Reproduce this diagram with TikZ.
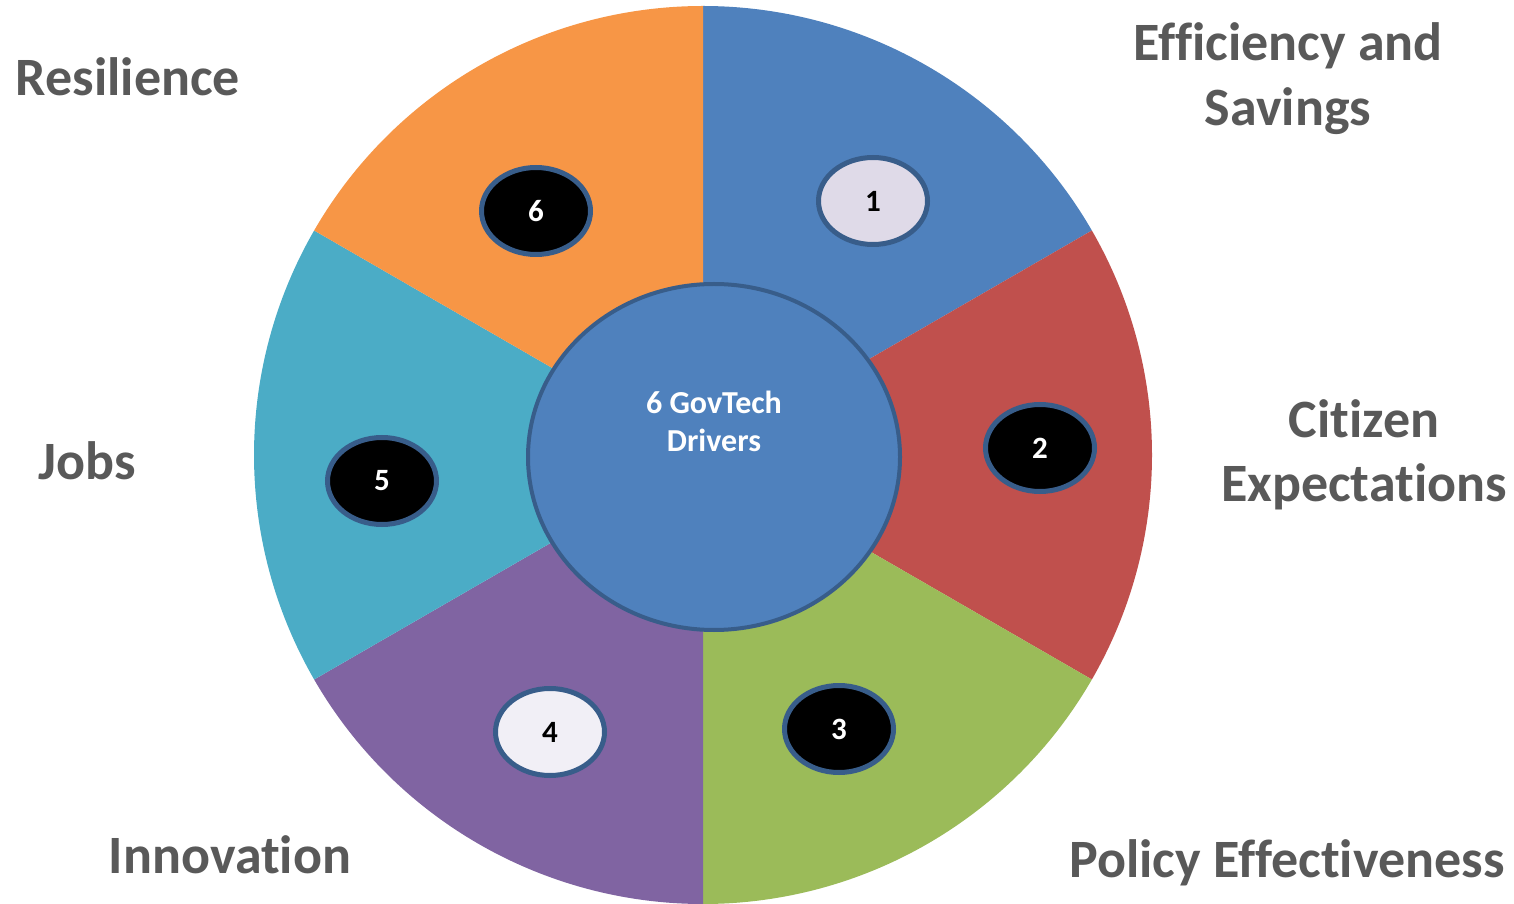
\documentclass[tikz,border=0pt]{standalone}
\usepackage{fontspec}
\setmainfont{Carlito}[Ligatures=NoCommon]
\usetikzlibrary{shapes.geometric}
\begin{document}
\begin{tikzpicture}[x=1pt,y=1pt,
  label/.style={font=\fontsize{54}{65}\selectfont\bfseries, text=labelgray, inner sep=0pt, anchor=base},
  badge/.style={ellipse, draw=ringblue, line width=5pt, minimum width=109pt, minimum height=87pt, inner sep=0pt,
    font=\fontsize{31}{32}\selectfont\bfseries},
  darkbadge/.style={badge, fill=black, text=white},
  lightbadge/.style={badge, text=black}]
\definecolor{secblue}{HTML}{4F81BD}
\definecolor{secred}{HTML}{C0504D}
\definecolor{secgreen}{HTML}{9BBB59}
\definecolor{secpurple}{HTML}{8064A2}
\definecolor{secteal}{HTML}{4BACC6}
\definecolor{secorange}{HTML}{F79646}
\definecolor{ringblue}{HTML}{385D8A}
\definecolor{labelgray}{HTML}{595959}
\definecolor{paleA}{HTML}{DFDAE8}
\definecolor{paleB}{HTML}{F1EFF6}

\useasboundingbox (0,0) rectangle (1514,903);
\clip (0,0) rectangle (1514,903);

% six coloured sectors of the wheel
\coordinate (O) at (703,448);
\def\R{449}
\foreach \a/\b/\c in {30/90/secblue, -30/30/secred, -90/-30/secgreen,
                       -150/-90/secpurple, 150/210/secteal, 90/150/secorange}{
  \fill[\c] (O) -- ++(\a:\R) arc[start angle=\a, end angle=\b, radius=\R] -- cycle;
}

% hub
\node[ellipse, draw=ringblue, line width=4pt, fill=secblue,
      minimum width=372pt, minimum height=346pt, inner sep=0pt] (hub) at (714,446) {};
\node[font=\fontsize{32}{38}\selectfont\bfseries, text=white, inner sep=0pt, anchor=base] (hubA) at (714,489) {6 GovTech};
\node[font=\fontsize{32}{38}\selectfont\bfseries, text=white, inner sep=0pt, anchor=base] (hubB) at (714,451) {Drivers};

% numbered badges
\node[lightbadge, fill=paleA] (b1) at (873,702) {1};
\node[darkbadge] (b2) at (1040,455) {2};
\node[darkbadge] (b3) at (839,174) {3};
\node[lightbadge, fill=paleB] (b4) at (550,171) {4};
\node[darkbadge] (b5) at (382,422) {5};
\node[darkbadge] (b6) at (536,692) {6};

% driver labels
\node[label] (effA) at (1288,842) {Efficiency and};
\node[label] (effB) at (1288,777) {Savings};
\node[label] (citA) at (1364,465) {Citizen};
\node[label] (citB) at (1364,401) {Expectations};
\node[label] (pol) at (1287,26) {Policy Effectiveness};
\node[label] (inn) at (230,30) {Innovation};
\node[label] (jobs) at (87,423) {Jobs};
\node[label] (res) at (128,807) {Resilience};
\end{tikzpicture}
\end{document}
